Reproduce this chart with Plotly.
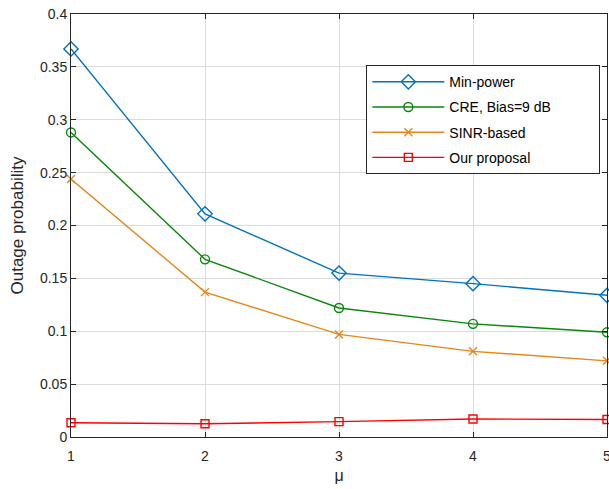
import plotly.graph_objects as go

mu = [1, 2, 3, 4, 5]
min_power = [0.367, 0.211, 0.155, 0.145, 0.134]
cre_bias9 = [0.288, 0.168, 0.122, 0.107, 0.099]
sinr_based = [0.244, 0.137, 0.097, 0.081, 0.072]
our_proposal = [0.0135, 0.0125, 0.0145, 0.017, 0.0165]
names = ["Min-power", "CRE, Bias=9 dB", "SINR-based", "Our proposal"]

NB = "\u00a0"
series = [
    (names[0], min_power, "#0072BD", "diamond-open", 11),
    (names[1], cre_bias9, "#098709", "circle-open", 9),
    (names[2], sinr_based, "#E5861A", "x-thin-open", 8),
    (names[3], our_proposal, "#FF0000", "square-open", 8),
]

fig = go.Figure()
for i, (name, vals, color, sym, size) in enumerate(series):
    label = name + (NB * 11 if i == 1 else "")
    fig.add_trace(go.Scatter(
        x=mu, y=vals, name=label, mode="lines+markers",
        legendgroup=f"g{i}",
        line=dict(color=color, width=1.4),
        marker=dict(symbol=sym, size=size, color=color,
                    line=dict(color=color, width=1.4)),
        cliponaxis=False,
    ))

font = "Liberation Sans, Arial, Helvetica, sans-serif"
fig.update_layout(
    width=609, height=489,
    margin=dict(l=71, r=2, t=14, b=52, autoexpand=False),
    paper_bgcolor="white", plot_bgcolor="white",
    font=dict(family=font, size=14, color="#262626"),
    showlegend=True,
    legend=dict(
        x=0.551, y=0.879, xanchor="left", yanchor="top",
        bordercolor="#262626", borderwidth=1, bgcolor="white",
        font=dict(size=14, color="#000000"),
        tracegroupgap=4, itemwidth=72,
    ),
    xaxis=dict(
        range=[1, 5], tickvals=[1, 2, 3, 4, 5], automargin=False,
        showgrid=True, gridcolor="#DCDCDC", gridwidth=1,
        showline=True, linecolor="#262626", linewidth=1, mirror="ticks",
        ticks="inside", ticklen=5, tickcolor="#262626",
        zeroline=False, tickfont=dict(size=14), ticklabelstandoff=6,
        ticklabeloverflow="allow",
        title=dict(text="μ", font=dict(size=16), standoff=7),
    ),
    yaxis=dict(
        range=[0, 0.4], tickvals=[0, 0.05, 0.1, 0.15, 0.2, 0.25, 0.3, 0.35, 0.4],
        ticktext=["0", "0.05", "0.1", "0.15", "0.2", "0.25", "0.3", "0.35", "0.4"],
        automargin=False,
        showgrid=True, gridcolor="#DCDCDC", gridwidth=1,
        showline=True, linecolor="#262626", linewidth=1, mirror="ticks",
        ticks="inside", ticklen=5, tickcolor="#262626",
        zeroline=False, tickfont=dict(size=14),
        ticklabeloverflow="allow",
        title=dict(text="Outage probability", font=dict(size=17), standoff=12),
    ),
)

fig.write_html(
    "out.html",
    config={"displayModeBar": False},
    post_script="document.body.style.margin='0';document.body.style.overflow='hidden';",
)
